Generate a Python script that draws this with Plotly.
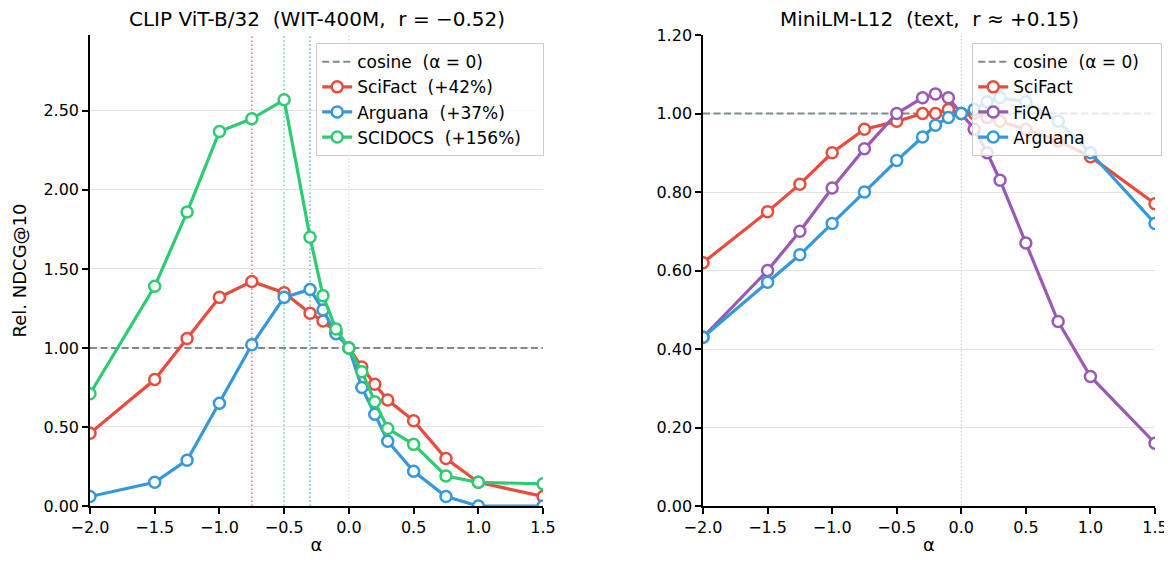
import plotly.graph_objects as go

# alpha grid shared by both panels
alpha = [-2.0, -1.5, -1.25, -1.0, -0.75, -0.5, -0.3, -0.2, -0.1, 0.0,
         0.1, 0.2, 0.3, 0.5, 0.75, 1.0, 1.5]

# CLIP ViT-B/32 (relative NDCG@10)
clip_scifact = [0.46, 0.80, 1.06, 1.32, 1.42, 1.35, 1.22, 1.17, 1.10, 1.00,
                0.88, 0.77, 0.67, 0.54, 0.30, 0.15, 0.06]
clip_arguana = [0.06, 0.15, 0.29, 0.65, 1.02, 1.32, 1.37, 1.24, 1.09, 1.00,
                0.75, 0.58, 0.41, 0.22, 0.06, 0.00, 0.00]
clip_scidocs = [0.71, 1.39, 1.86, 2.37, 2.45, 2.57, 1.70, 1.33, 1.12, 1.00,
                0.85, 0.66, 0.49, 0.39, 0.19, 0.15, 0.14]
clip_best = [-0.75, -0.3, -0.5]  # SciFact, Arguana, SCIDOCS

# MiniLM-L12
mini_scifact = [0.62, 0.75, 0.82, 0.90, 0.96, 0.98, 1.00, 1.00, 1.01, 1.00,
                1.00, 0.99, 0.98, 0.96, 0.93, 0.89, 0.77]
mini_fiqa = [0.43, 0.60, 0.70, 0.81, 0.91, 1.00, 1.04, 1.05, 1.04, 1.00,
             0.96, 0.90, 0.83, 0.67, 0.47, 0.33, 0.16]
mini_arguana = [0.43, 0.57, 0.64, 0.72, 0.80, 0.88, 0.94, 0.97, 0.99, 1.00,
                1.01, 1.03, 1.04, 1.03, 0.98, 0.90, 0.72]

RED, BLUE, GREEN, PURPLE = "#e74c3c", "#3498db", "#2ecc71", "#9b59b6"
GRAY = "#7f8c8d"
FONT = "DejaVu Sans"
PAD = "\u00a0\u00a0\u00a0"  # right padding inside legend boxes

fig = go.Figure()


def add_curve(y, name, color, xa, ya, legend):
    fig.add_trace(go.Scatter(
        x=alpha, y=y, name=name + PAD, mode="lines+markers",
        line=dict(color=color, width=3.2),
        marker=dict(size=11, color="white", line=dict(color=color, width=2.5)),
        xaxis=xa, yaxis=ya, legend=legend, legendgroup=name + legend,
    ))


def add_cosine(xa, ya, legend):
    fig.add_trace(go.Scatter(
        x=[alpha[0], alpha[-1]], y=[1.0, 1.0], mode="lines",
        name="cosine\u00a0 (α = 0)" + PAD,
        line=dict(color=GRAY, width=2, dash="7px,3.5px"),
        xaxis=xa, yaxis=ya, legend=legend, legendgroup="cos" + legend,
    ))


# left panel
add_cosine("x", "y", "legend")
add_curve(clip_scifact, "SciFact\u00a0 (+42%)", RED, "x", "y", "legend")
add_curve(clip_arguana, "Arguana\u00a0 (+37%)", BLUE, "x", "y", "legend")
add_curve(clip_scidocs, "SCIDOCS\u00a0 (+156%)", GREEN, "x", "y", "legend")

# right panel
add_cosine("x2", "y2", "legend2")
add_curve(mini_scifact, "SciFact", RED, "x2", "y2", "legend2")
add_curve(mini_fiqa, "FiQA", PURPLE, "x2", "y2", "legend2")
add_curve(mini_arguana, "Arguana", BLUE, "x2", "y2", "legend2")

# best-alpha markers and alpha = 0 guides
for a, c in zip(clip_best, [RED, BLUE, GREEN]):
    fig.add_shape(type="line", xref="x", yref="y domain", x0=a, x1=a, y0=0, y1=1,
                  line=dict(color=c, width=1.6, dash="1.6px,2.4px"), opacity=0.7, layer="below")
for xr in ["x", "x2"]:
    fig.add_shape(type="line", xref=xr, yref="y domain" if xr == "x" else "y2 domain",
                  x0=0, x1=0, y0=0, y1=1,
                  line=dict(color="#cccccc", width=1, dash="1.5px,2px"), layer="below")

axis_common = dict(
    showline=True, linecolor="black", linewidth=1.5, ticks="outside",
    ticklen=6, tickwidth=1.5, tickcolor="black", zeroline=False,
    tickfont=dict(family=FONT, size=16, color="black"),
)
xcommon = dict(axis_common, range=[-2.0, 1.5], tickvals=[-2, -1.5, -1, -0.5, 0, 0.5, 1, 1.5],
               tickformat=".1f", showgrid=False,
               title=dict(text="α", font=dict(family=FONT, size=18, color="black"), standoff=2))
ycommon = dict(axis_common, showgrid=True, gridcolor="#e3e3e3", gridwidth=1, tickformat=".2f")

legend_common = dict(
    bgcolor="rgba(255,255,255,0.8)", bordercolor="#cccccc", borderwidth=1.2,
    font=dict(family=FONT, size=17, color="black"), yanchor="top", xanchor="right",
    tracegroupgap=0, itemwidth=30,
)

# the page body adds an 8px offset, so margins are shifted to land the axes in place
fig.update_layout(
    width=1172, height=561,
    margin=dict(l=82, r=25, t=27, b=63),
    plot_bgcolor="white", paper_bgcolor="white",
    font=dict(family=FONT, color="black"),
    xaxis=dict(xcommon, domain=[0, 0.4254], anchor="y"),
    yaxis=dict(ycommon, range=[0, 2.98], dtick=0.5, anchor="x",
               title=dict(text="Rel. NDCG@10", font=dict(family=FONT, size=18, color="black"),
                          standoff=12)),
    xaxis2=dict(xcommon, domain=[0.5756, 1], anchor="y2"),
    yaxis2=dict(ycommon, range=[0, 1.2], dtick=0.2, anchor="x2"),
    legend=dict(legend_common, x=0.4263, y=0.983),
    legend2=dict(legend_common, x=1.0066, y=0.983),
    annotations=[
        dict(text="CLIP ViT-B/32\u00a0 (WIT-400M,\u00a0 r = −0.52)", x=0.2127, y=1.0,
             xref="paper", yref="paper", yshift=16, showarrow=False,
             xanchor="center", yanchor="middle",
             font=dict(family=FONT, size=20, color="black")),
        dict(text="MiniLM-L12\u00a0 (text,\u00a0 r ≈ +0.15)", x=0.7878, y=1.0,
             xref="paper", yref="paper", yshift=16, showarrow=False,
             xanchor="center", yanchor="middle",
             font=dict(family=FONT, size=20, color="black")),
    ],
)

fig.write_html("out.html")
